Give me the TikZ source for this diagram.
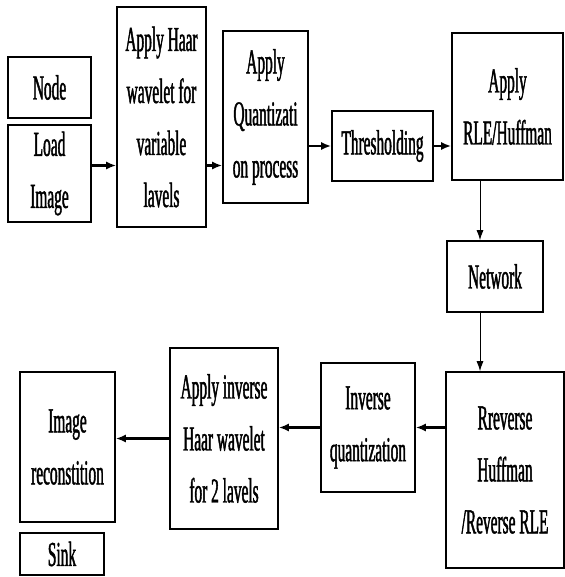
\documentclass[tikz,border=0pt]{standalone}
\usepackage{fontspec}
\setmainfont[FakeStretch=0.44,FakeBold=1.2]{Liberation Serif}
\usetikzlibrary{arrows.meta}

\tikzset{
  box/.style={draw, line width=1.6pt, align=center, inner sep=0pt,
    font=\fontsize{35}{52}\selectfont},
  arr/.style={-{Latex[length=10pt,width=8pt]}, line width=2.2pt},
  thinarr/.style={-{Latex[length=10pt,width=7pt]}, line width=1pt}
}

\begin{document}
\begin{tikzpicture}[x=1pt,y=-1pt]
\useasboundingbox (0,0) rectangle (564,577);

% Top row
\node[box, minimum width=83, minimum height=61] (nodebox) at (49.5,87.5) {Node}; % Source label
\node[box, minimum width=83, minimum height=97] (load) at (49.5,173.5) {Load\\Image}; % Input
\node[box, minimum width=89, minimum height=220] (haar) at (161.5,117) {Apply Haar\\wavelet for\\variable\\lavels}; % Wavelet
\node[box, minimum width=85, minimum height=172] (quant) at (265.5,117) {Apply\\Quantizati\\on process}; % Quantization
\node[box, minimum width=101, minimum height=70] (thresh) at (382.5,146) {Thresholding}; % Threshold
\node[box, minimum width=111, minimum height=147] (rle) at (507.5,106.5) {Apply\\RLE/Huffman}; % Encoding

% Channel
\node[box, minimum width=96, minimum height=71] (net) at (495,276.5) {Network};

% Bottom row
\node[box, minimum width=118, minimum height=196] (rrev) at (505,470) {Rreverse\\Huffman\\/Reverse RLE}; % Decoding
\node[box, minimum width=94, minimum height=129] (invq) at (368,427.5) {Inverse\\quantization}; % Dequantization
\node[box, minimum width=108, minimum height=181] (invh) at (224,438.5) {Apply inverse\\Haar wavelet\\for 2 lavels}; % Inverse wavelet
\node[box, minimum width=95, minimum height=150] (recon) at (67.5,447) {Image\\reconstition}; % Output
\node[box, minimum width=84, minimum height=42] (sink) at (62,554) {Sink}; % Sink label

% Arrows, top row
\draw[arr] ([yshift=8]load.east) -- ([yshift=8]load.east -| haar.west);
\draw[arr] ([yshift=8]load.east -| haar.east) -- ([yshift=8]load.east -| quant.west);
\draw[arr] (thresh.west -| quant.east) -- (thresh.west);
\draw[arr] (thresh.east) -- (thresh.east -| rle.west);

% Arrows, down the right side
\draw[thinarr] ([xshift=-15]net.north |- rle.south) -- ([xshift=-15]net.north);
\draw[thinarr] ([xshift=-15]net.south) -- ([xshift=-15]net.south |- rrev.north);

% Arrows, bottom row
\draw[arr] (invq.east -| rrev.west) -- (invq.east);
\draw[arr] (invq.west) -- (invq.west -| invh.east);
\draw[arr] (invh.west) -- (invh.west -| recon.east);

\end{tikzpicture}
\end{document}
